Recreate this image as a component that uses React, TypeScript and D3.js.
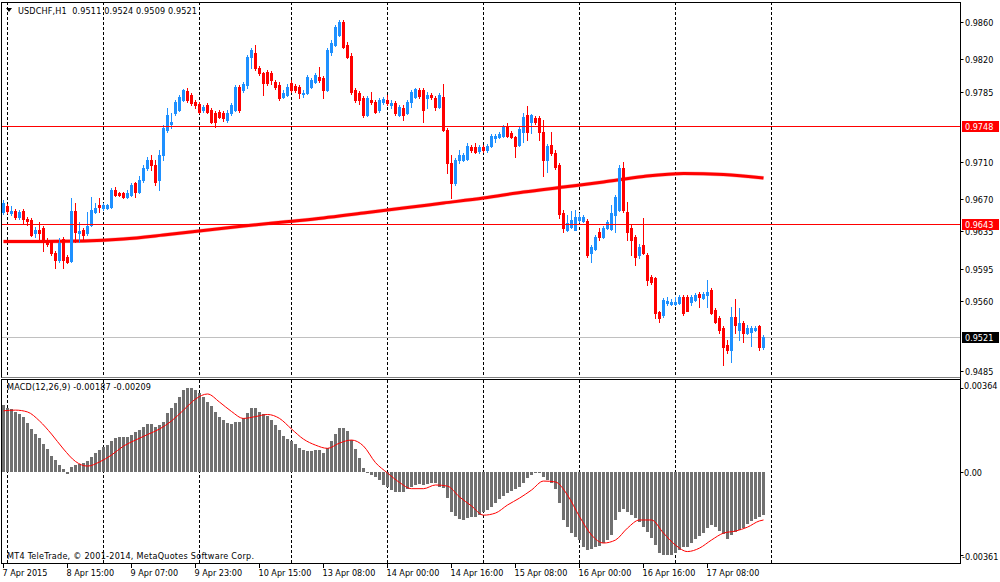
import React from 'react';
import * as d3 from 'd3';

// USDCHF H1 candles, price × 10 000, bar 0 = 7 Apr 2015 23:00
const OPEN = [
  9656,9662,9655,9657,9650,9657,9648,9647,9633,9637,
  9639,9626,9624,9612,9604,9627,9607,9603,9657,9633,
  9636,9633,9642,9656,9663,9660,9660,9661,9680,9676,
  9676,9672,9674,9687,9677,9690,9703,9712,9706,9690,
  9717,9744,9750,9762,9765,9776,9786,9782,9774,9772,
  9765,9771,9765,9762,9763,9762,9755,9762,9765,9790,
  9787,9792,9822,9827,9811,9805,9806,9805,9796,9792,
  9779,9782,9794,9791,9790,9783,9784,9790,9796,9801,
  9800,9787,9828,9835,9846,9860,9835,9824,9787,9784,
  9778,9760,9776,9774,9765,9774,9776,9771,9773,9760,
  9768,9762,9774,9779,9787,9787,9778,9782,9778,9769,
  9779,9744,9709,9687,9712,9712,9713,9726,9726,9721,
  9726,9722,9727,9735,9736,9737,9748,9741,9736,9728,
  9742,9760,9753,9757,9757,9742,9712,9728,9719,9706,
  9655,9636,9640,9637,9647,9646,9646,9612,9616,9634,
  9629,9639,9638,9653,9658,9703,9656,9639,9629,9610,
  9620,9610,9586,9585,9548,9545,9558,9557,9557,9558,
  9564,9564,9559,9561,9568,9563,9567,9572,9551,9542,
  9531,9513,9508,9543,9529,9537,9526,9527,9529,9533,
  9511,
];
const HIGH = [
  9669,9664,9662,9659,9658,9659,9650,9649,9640,9645,
  9641,9628,9626,9614,9628,9629,9610,9671,9666,9645,
  9639,9656,9672,9666,9671,9666,9664,9682,9683,9677,
  9677,9679,9687,9688,9694,9706,9715,9717,9712,9722,
  9749,9768,9762,9776,9782,9788,9789,9784,9776,9774,
  9771,9773,9768,9764,9765,9764,9765,9773,9792,9792,
  9796,9825,9832,9835,9813,9806,9808,9807,9798,9796,
  9787,9793,9798,9793,9792,9787,9803,9800,9805,9812,
  9802,9832,9841,9857,9862,9862,9838,9827,9789,9786,
  9780,9780,9785,9776,9778,9779,9782,9776,9775,9771,
  9771,9776,9787,9789,9789,9789,9785,9784,9780,9784,
  9793,9746,9717,9714,9723,9719,9730,9728,9730,9728,
  9728,9729,9740,9740,9742,9749,9752,9743,9738,9747,
  9762,9770,9761,9759,9759,9755,9729,9742,9722,9708,
  9658,9653,9657,9658,9655,9653,9648,9620,9631,9639,
  9641,9647,9663,9674,9706,9710,9667,9642,9631,9621,
  9649,9612,9588,9586,9550,9563,9564,9562,9564,9567,
  9567,9567,9567,9569,9570,9570,9583,9574,9553,9544,
  9533,9518,9554,9562,9553,9539,9534,9533,9533,9534,
  9524,
];
const LOW = [
  9654,9655,9653,9648,9648,9644,9642,9630,9629,9626,
  9614,9619,9610,9596,9602,9596,9601,9602,9624,9624,
  9626,9631,9641,9655,9656,9658,9659,9660,9673,9673,
  9671,9671,9673,9672,9676,9688,9701,9701,9685,9679,
  9712,9742,9746,9760,9764,9775,9774,9771,9768,9762,
  9763,9762,9751,9747,9757,9754,9753,9760,9764,9763,
  9785,9789,9811,9808,9803,9782,9792,9793,9788,9776,
  9778,9780,9785,9785,9778,9779,9783,9789,9794,9796,
  9778,9786,9825,9834,9845,9832,9821,9783,9774,9772,
  9758,9759,9772,9762,9763,9772,9771,9768,9760,9759,
  9755,9761,9769,9778,9778,9753,9768,9777,9765,9768,
  9743,9698,9671,9685,9709,9711,9712,9720,9719,9719,
  9720,9720,9726,9731,9735,9736,9736,9735,9715,9727,
  9731,9733,9741,9750,9733,9695,9699,9717,9702,9649,
  9634,9635,9639,9636,9645,9645,9607,9602,9615,9626,
  9628,9638,9636,9634,9657,9656,9626,9610,9599,9606,
  9611,9577,9578,9542,9538,9543,9556,9556,9556,9557,
  9545,9549,9556,9560,9554,9562,9554,9546,9537,9526,
  9491,9504,9495,9526,9518,9516,9525,9512,9528,9508,
  9509,
];
const CLOSE = [
  9665,9657,9657,9650,9656,9648,9646,9631,9636,9633,
  9624,9621,9612,9604,9622,9604,9602,9657,9634,9635,
  9631,9641,9658,9660,9661,9663,9663,9680,9674,9674,
  9672,9676,9685,9677,9690,9703,9712,9706,9688,9717,
  9746,9760,9753,9774,9779,9787,9776,9773,9771,9763,
  9769,9763,9753,9753,9758,9757,9762,9771,9790,9765,
  9793,9822,9830,9811,9805,9794,9794,9798,9790,9778,
  9784,9790,9787,9787,9784,9784,9801,9798,9803,9798,
  9787,9830,9837,9855,9860,9833,9822,9785,9776,9776,
  9760,9778,9774,9763,9776,9777,9773,9773,9762,9769,
  9760,9774,9785,9788,9780,9765,9782,9779,9769,9782,
  9744,9709,9687,9712,9717,9717,9727,9722,9720,9726,
  9722,9727,9737,9737,9740,9747,9737,9736,9727,9745,
  9758,9742,9760,9753,9742,9712,9727,9719,9704,9654,
  9639,9644,9647,9651,9650,9650,9610,9618,9629,9629,
  9639,9645,9655,9672,9703,9658,9634,9626,9607,9618,
  9612,9583,9581,9547,9542,9561,9560,9559,9559,9564,
  9547,9550,9564,9567,9564,9568,9570,9547,9538,9529,
  9511,9508,9543,9534,9537,9526,9531,9531,9531,9511,
  9521,
];

// thick moving average (price), sampled at bar indices
const MA_IDX = [0,10,20,30,40,50,60,70,80,90,100,110,120,130,140,150,160,170,180,190];
const MA_VAL = [0.96242,0.96242,0.96247,0.96268,0.96311,0.96360,0.96408,0.96451,0.96494,0.96548,
  0.96601,0.96655,0.96709,0.96773,0.96827,0.96881,0.96940,0.96972,0.96961,0.96924];

// MACD(12,26,9) main histogram, value × 100 000, one per bar
const MACD_MAIN = [
  290,276,271,261,251,237,211,185,164,146,
  121,98,69,51,30,11,-10,20,30,33,
  37,48,63,80,95,106,116,135,146,150,
  150,150,160,174,181,196,206,206,196,203,
  218,254,276,297,326,355,363,363,355,344,
  326,304,286,261,239,225,213,208,218,218,
  232,257,276,276,261,251,242,225,203,181,
  155,141,135,121,102,95,92,92,95,95,
  83,102,135,164,189,189,178,138,98,59,
  15,-1,-14,-22,-35,-57,-65,-79,-86,-89,
  -86,-76,-65,-57,-53,-57,-53,-47,-50,-65,
  -72,-115,-173,-192,-206,-209,-202,-198,-195,-188,
  -173,-166,-152,-134,-119,-105,-93,-82,-76,-67,
  -50,-28,-14,-4,-6,-21,-35,-50,-76,-137,
  -209,-238,-267,-284,-296,-325,-339,-336,-328,-322,
  -308,-296,-274,-209,-173,-163,-173,-188,-202,-217,
  -238,-260,-289,-318,-354,-361,-361,-361,-354,-339,
  -328,-325,-310,-293,-279,-264,-245,-231,-238,-256,
  -270,-293,-274,-260,-253,-245,-225,-215,-205,-196,
  -187,
];
// MACD signal line, value × 100 000, sampled at bar indices
const SIGNAL_IDX = [0,3,6,9,12,15,18,21,24,27,30,33,36,39,42,45,48,51,54,57,60,63,66,69,72,75,78,81,84,87,
  90,93,96,99,102,105,108,111,114,117,120,123,126,129,132,135,138,141,144,147,150,153,156,159,162,165,168,171,
  174,177,180,183,186,189,190];
const SIGNAL = [265,268,260,221,164,99,45,25,43,73,112,138,162,186,221,268,316,338,303,262,232,240,249,232,186,
  142,116,102,125,138,112,40,-5,-46,-73,-73,-57,-62,-109,-148,-188,-179,-144,-114,-79,-40,-44,-101,-194,-274,
  -309,-296,-244,-209,-209,-266,-318,-346,-331,-296,-266,-257,-240,-213,-209];

const PRICE_TICKS = [0.9860,0.9820,0.9785,0.9710,0.9670,0.9635,0.9595,0.9560,0.9485];
const LEVELS = [0.9748, 0.9643];
const BID = 0.9521;
const DAY_SEPS = [1,25,49,72,96,120,144,168,192];
const TIME_IDX = [0,16,32,48,64,80,96,112,128,144,160,176];
const TIME_LABELS = ['7 Apr 2015','8 Apr 15:00','9 Apr 07:00','9 Apr 23:00','10 Apr 15:00','13 Apr 08:00',
  '14 Apr 00:00','14 Apr 16:00','15 Apr 08:00','16 Apr 00:00','16 Apr 16:00','17 Apr 08:00'];
const MACD_TICKS = [0.00364, 0.0, -0.00361];
const MACD_TICK_TEXT = ['0.00364', '0.00', '-0.00361'];

const FONT = "'DejaVu Sans Condensed', 'DejaVu Sans', sans-serif";
const BULL = '#1e90ff';
const BEAR = '#ff0000';

export default function App() {
  const x = d3.scaleLinear().domain([0, 190]).range([3, 763]);
  const yP = d3.scaleLinear().domain([0.9485, 0.986]).range([371, 22]);
  const yM = d3.scaleLinear().domain([-0.00361, 0.00364]).range([555, 388]);
  const pp = (v: number) => yP(v / 10000);

  const maPath = d3.line<number>()
    .x((_, k) => x(MA_IDX[k]) + 0.5)
    .y((d) => yP(d))
    .curve(d3.curveMonotoneX)(MA_VAL) || '';
  const sigPath = d3.line<number>()
    .x((_, k) => x(SIGNAL_IDX[k]) + 0.5)
    .y((d) => yM(d / 1e5))
    .curve(d3.curveMonotoneX)(SIGNAL) || '';

  const zero = Math.round(yM(0));
  const L = 1.5, R = 960.5;

  return (
    <svg width={1000} height={582} style={{ position: 'fixed', left: 0, top: 0, background: '#fff' }}
      fontFamily={FONT} fontSize={9}>
      <rect x={0} y={0} width={1000} height={582} fill="#fff" />
      {/* day separators */}
      {DAY_SEPS.map((d) => (
        <g key={'s' + d}>
          <line x1={Math.round(x(d)) + 0.5} x2={Math.round(x(d)) + 0.5} y1={2} y2={377} stroke="#000" strokeDasharray="3,2" />
          <line x1={Math.round(x(d)) + 0.5} x2={Math.round(x(d)) + 0.5} y1={380} y2={563} stroke="#000" strokeDasharray="3,2" />
        </g>
      ))}
      {/* bid line */}
      <line x1={L} x2={R} y1={Math.round(yP(BID)) + 0.5} y2={Math.round(yP(BID)) + 0.5} stroke="#c0c0c0" />
      {/* moving average */}
      <path d={maPath} fill="none" stroke="#ff3030" strokeWidth={4} strokeOpacity={0.35} />
      <path d={maPath} fill="none" stroke="#ff0000" strokeWidth={3} />
      {/* candles */}
      {OPEN.map((o, i) => {
        const c = CLOSE[i];
        const col = c >= o ? BULL : BEAR;
        const cx = Math.round(x(i));
        const yo = Math.round(pp(o)), yc = Math.round(pp(c));
        const yh = Math.round(pp(HIGH[i])), yl = Math.round(pp(LOW[i]));
        const top = Math.min(yo, yc);
        const h = Math.abs(yo - yc) + 1;
        return (
          <g key={'c' + i}>
            <rect x={cx} y={yh} width={1} height={yl - yh + 1} fill={col} />
            <rect x={cx - 1} y={top} width={3} height={h} fill={col} />
          </g>
        );
      })}
      {/* horizontal levels */}
      {LEVELS.map((lv) => (
        <line key={'l' + lv} x1={L} x2={R} y1={Math.round(yP(lv)) + 0.5} y2={Math.round(yP(lv)) + 0.5} stroke="#ff0000" />
      ))}
      {/* MACD histogram */}
      {MACD_MAIN.map((v, i) => {
        const yv = Math.round(yM(v / 1e5));
        const cx = Math.round(x(i));
        return <rect key={'h' + i} x={cx - 1} y={Math.min(yv, zero)} width={3} height={Math.max(1, Math.abs(yv - zero))} fill="#707070" />;
      })}
      <path d={sigPath} fill="none" stroke="#ff0000" strokeWidth={1} />

      {/* frames */}
      <line x1={L} x2={R} y1={2.5} y2={2.5} stroke="#000" />
      <line x1={L} x2={L} y1={2} y2={378} stroke="#000" />
      <line x1={L} x2={R} y1={377.5} y2={377.5} stroke="#808080" />
      <line x1={L} x2={R} y1={379.5} y2={379.5} stroke="#000" />
      <line x1={L} x2={L} y1={379} y2={564} stroke="#000" />
      <line x1={L} x2={R} y1={563.5} y2={563.5} stroke="#000" />
      <line x1={R} x2={R} y1={2} y2={564} stroke="#000" />

      {/* price axis */}
      {PRICE_TICKS.map((t) => {
        const yy = Math.round(yP(t)) + 0.5;
        return (
          <g key={'p' + t}>
            <line x1={R} x2={R + 3} y1={yy} y2={yy} stroke="#000" />
            <text x={965} y={yy} dominantBaseline="central" fill="#000">{t.toFixed(4)}</text>
          </g>
        );
      })}
      {LEVELS.map((lv) => {
        const yy = Math.round(yP(lv)) + 0.5;
        return (
          <g key={'lb' + lv}>
            <rect x={962} y={yy - 5.5} width={37} height={11} fill="#ff0000" />
            <text x={965} y={yy} dominantBaseline="central" fill="#fff">{lv.toFixed(4)}</text>
          </g>
        );
      })}
      {(() => {
        const yy = Math.round(yP(BID)) + 0.5;
        return (
          <g>
            <rect x={962} y={yy - 5.5} width={37} height={11} fill="#000" />
            <text x={965} y={yy} dominantBaseline="central" fill="#fff">{BID.toFixed(4)}</text>
          </g>
        );
      })()}

      {/* MACD axis */}
      {MACD_TICKS.map((t, k) => {
        const yy = Math.round(yM(t)) + 0.5;
        const ty = k === 0 ? yy - 3 : k === 2 ? yy + 1.5 : yy;
        return (
          <g key={'m' + k}>
            <line x1={R} x2={R + 3} y1={yy} y2={yy} stroke="#000" />
            <text x={k === 2 ? 962 : 964} y={ty} dominantBaseline="central" fill="#000">{MACD_TICK_TEXT[k]}</text>
          </g>
        );
      })}

      {/* time axis */}
      {TIME_IDX.map((ti, k) => {
        const xx = Math.round(x(ti)) + 0.5;
        return (
          <g key={'t' + ti}>
            <line x1={xx} x2={xx} y1={564} y2={568} stroke="#000" />
            <text x={xx - 1} y={573} dominantBaseline="central" fill="#000">{TIME_LABELS[k]}</text>
          </g>
        );
      })}

      {/* titles */}
      <path d="M6,8 L12,8 L9,12 Z" fill="#000" />
      <text x={18} y={10.5} dominantBaseline="central" fill="#000" style={{ whiteSpace: 'pre' }}
        textLength={179} lengthAdjust="spacing">{'USDCHF,H1  0.9511 0.9524 0.9509 0.9521'}</text>
      <text x={7} y={387} dominantBaseline="central" fill="#000" textLength={144} lengthAdjust="spacing">MACD(12,26,9) -0.00187 -0.00209</text>
      <text x={7} y={556} dominantBaseline="central" fill="#000" textLength={247} lengthAdjust="spacing">MT4 TeleTrade, © 2001-2014, MetaQuotes Software Corp.</text>
    </svg>
  );
}
